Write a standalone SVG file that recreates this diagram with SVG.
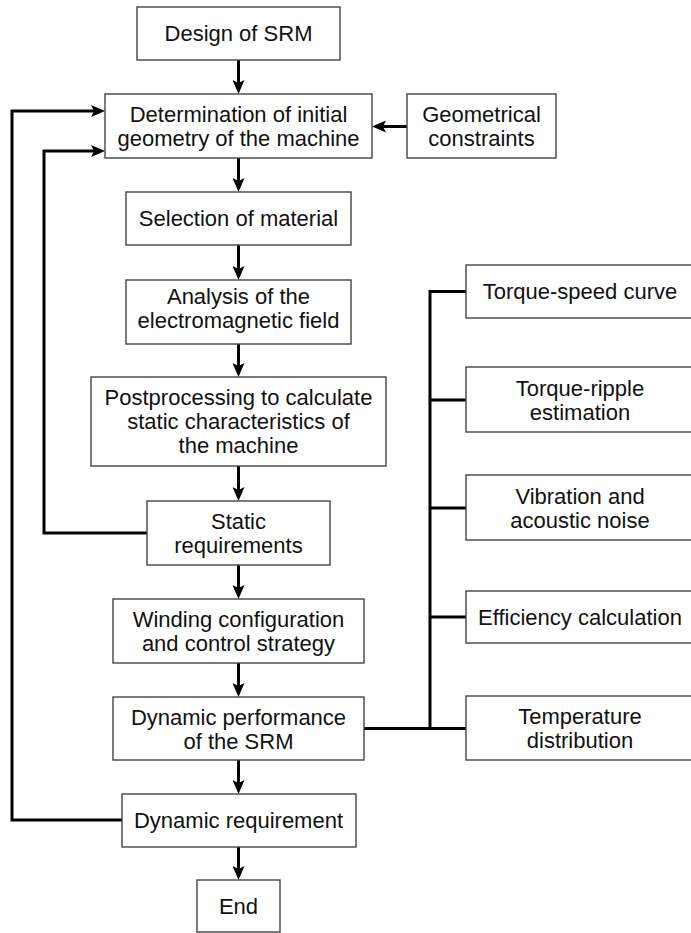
<svg xmlns="http://www.w3.org/2000/svg" width="691" height="933" viewBox="0 0 691 933">
<defs>
<style>
.box{fill:#fff;stroke:#444;stroke-width:1.4}
.t{font-family:"Liberation Sans",Arial,sans-serif;font-size:22px;fill:#111;text-anchor:middle}
.c{fill:none;stroke:#000;stroke-width:3}
.a{marker-end:url(#ah)}
</style>
<marker id="ah" viewBox="0 0 14 12" refX="10" refY="6" markerWidth="14" markerHeight="12" orient="auto" markerUnits="userSpaceOnUse">
<path d="M0,0 L14,6 L0,12 L3,6 z" fill="#000"/>
</marker>
</defs>
<rect width="691" height="933" fill="#fff"/>
<g id="connectors">
<line class="c a" x1="238.5" y1="60" x2="238.5" y2="90"/>
<line class="c a" x1="238.5" y1="158" x2="238.5" y2="188"/>
<line class="c a" x1="238.5" y1="245" x2="238.5" y2="276"/>
<line class="c a" x1="238.5" y1="344" x2="238.5" y2="373"/>
<line class="c a" x1="238.5" y1="466" x2="238.5" y2="497"/>
<line class="c a" x1="238.5" y1="565" x2="238.5" y2="595"/>
<line class="c a" x1="238.5" y1="663" x2="238.5" y2="693"/>
<line class="c a" x1="238.5" y1="760" x2="238.5" y2="790"/>
<line class="c a" x1="238.5" y1="847" x2="238.5" y2="876"/>
<line class="c a" x1="407" y1="126.5" x2="376" y2="126.5"/>
<polyline class="c a" points="122,820 12,820 12,111 101,111"/>
<polyline class="c a" points="147,533 44,533 44,151 101,151"/>
<polyline class="c" points="364,728.5 466,728.5"/>
<line class="c" x1="430" y1="290" x2="430" y2="728.5"/>
<line class="c" x1="430" y1="291.5" x2="466" y2="291.5"/>
<line class="c" x1="430" y1="400" x2="466" y2="400"/>
<line class="c" x1="430" y1="508" x2="466" y2="508"/>
<line class="c" x1="430" y1="617" x2="466" y2="617"/>
</g>
<g id="design"><rect class="box" x="137" y="7" width="203" height="53"/><text class="t" x="238.5" y="41">Design of SRM</text></g>
<g id="determination"><rect class="box" x="105" y="94" width="267" height="64"/><text class="t" x="238.5" y="122">Determination of initial</text><text class="t" x="238.5" y="146">geometry of the machine</text></g>
<g id="geometrical"><rect class="box" x="407" y="94" width="149" height="64"/><text class="t" x="481.5" y="122">Geometrical</text><text class="t" x="481.5" y="146">constraints</text></g>
<g id="selection"><rect class="box" x="126" y="192" width="225" height="53"/><text class="t" x="238.5" y="226">Selection of material</text></g>
<g id="analysis"><rect class="box" x="126" y="280" width="225" height="64"/><text class="t" x="238.5" y="304">Analysis of the</text><text class="t" x="238.5" y="328">electromagnetic field</text></g>
<g id="postprocessing"><rect class="box" x="91" y="377" width="295" height="89"/><text class="t" x="238.5" y="405">Postprocessing to calculate</text><text class="t" x="238.5" y="429">static characteristics of</text><text class="t" x="238.5" y="453">the machine</text></g>
<g id="static"><rect class="box" x="147" y="501" width="183" height="64"/><text class="t" x="238.5" y="529">Static</text><text class="t" x="238.5" y="553">requirements</text></g>
<g id="winding"><rect class="box" x="113" y="599" width="251" height="64"/><text class="t" x="238.5" y="627">Winding configuration</text><text class="t" x="238.5" y="651">and control strategy</text></g>
<g id="dynperf"><rect class="box" x="113" y="697" width="251" height="63"/><text class="t" x="238.5" y="724.5">Dynamic performance</text><text class="t" x="238.5" y="748.5">of the SRM</text></g>
<g id="dynreq"><rect class="box" x="122" y="794" width="234" height="53"/><text class="t" x="238.5" y="828">Dynamic requirement</text></g>
<g id="end"><rect class="box" x="197" y="880" width="83" height="52"/><text class="t" x="238.5" y="914">End</text></g>
<g id="torquespeed"><rect class="box" x="466" y="265" width="230" height="53"/><text class="t" x="580" y="299">Torque-speed curve</text></g>
<g id="torqueripple"><rect class="box" x="466" y="367" width="230" height="65"/><text class="t" x="580" y="395.5">Torque-ripple</text><text class="t" x="580" y="419.5">estimation</text></g>
<g id="vibration"><rect class="box" x="466" y="475" width="230" height="65"/><text class="t" x="580" y="503.5">Vibration and</text><text class="t" x="580" y="527.5">acoustic noise</text></g>
<g id="efficiency"><rect class="box" x="466" y="591" width="230" height="52"/><text class="t" x="580" y="625">Efficiency calculation</text></g>
<g id="temperature"><rect class="box" x="466" y="696" width="230" height="64"/><text class="t" x="580" y="724">Temperature</text><text class="t" x="580" y="748">distribution</text></g>
</svg>
